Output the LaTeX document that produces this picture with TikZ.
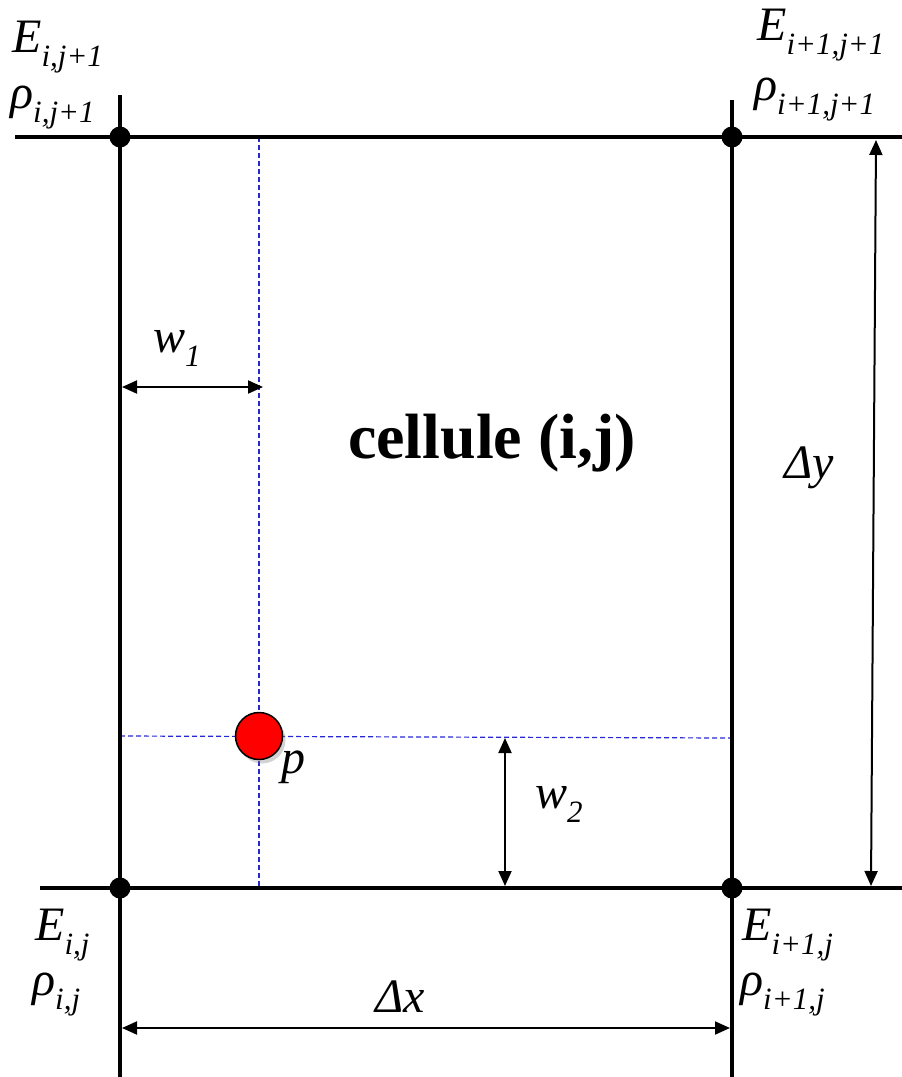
\documentclass[tikz,border=0pt]{standalone}
\usepackage{fontspec}
\setmainfont{Liberation Serif}
\usetikzlibrary{arrows.meta,shadows}
\definecolor{gridblue}{RGB}{40,40,210}
\newcommand{\lab}[2]{{\fontsize{48}{50}\selectfont\itshape #1\raisebox{-0.3em}{\fontsize{31}{33}\selectfont #2}}}
\begin{document}
\begin{tikzpicture}[x=1pt,y=-1pt,
  gridline/.style={line width=4.5pt},
  dot/.style={circle,fill=black,inner sep=0pt,minimum size=21pt},
  guide/.style={gridblue,line width=1.2pt,dash pattern=on 5pt off 3pt},
  dim/.style={line width=2pt,{Triangle[length=15pt,width=13pt]}-{Triangle[length=15pt,width=13pt]}},
  txt/.style={inner sep=0pt,anchor=base west}]
\useasboundingbox (0,0) rectangle (902,1077);
% free ends
\coordinate (tl) at (15,137);
\coordinate (tr) at (902,137);
\coordinate (bl) at (40,888);
\coordinate (br) at (902,888);
\coordinate (lt) at (120,95);
\coordinate (lb) at (120,1077);
\coordinate (rt) at (732,100);
\coordinate (rb) at (732,1077);
% guides
\coordinate (gvt) at (259,137);
\coordinate (gvb) at (259,888);
\coordinate (ghl) at (120,736);
\coordinate (ghr) at (732,738);
\draw[guide] (gvt) -- (gvb);
\draw[guide] (ghl) -- (ghr);
% grid lines
\draw[gridline] (tl) -- (tr);
\draw[gridline] (bl) -- (br);
\draw[gridline] (lt) -- (lb);
\draw[gridline] (rt) -- (rb);
% corner dots
\node[dot] (A) at (120,137) {};
\node[dot] (B) at (732,137) {};
\node[dot] (C) at (120,888) {};
\node[dot] (D) at (732,888) {};
% particle
\node[circle,draw=black,line width=1.5pt,fill=red,minimum size=47pt,inner sep=0pt,
  drop shadow={shadow xshift=3pt,shadow yshift=-4pt,opacity=0.35}] (P) at (259,736) {};
% dimension arrows
\coordinate (w1a) at (122,387);
\coordinate (w1b) at (263,387);
\draw[dim] (w1a) -- (w1b);
\coordinate (w2a) at (505,738);
\coordinate (w2b) at (505,886);
\draw[dim] (w2a) -- (w2b);
\coordinate (dya) at (876,140);
\coordinate (dyb) at (871,886);
\draw[dim] (dya) -- (dyb);
\coordinate (dxa) at (122,1028);
\coordinate (dxb) at (730,1028);
\draw[dim] (dxa) -- (dxb);
% labels
\node[txt] (l1) at (12,52) {\lab{E}{i,j+1}};
\node[txt] (l2) at (10,108) {\lab{ρ}{i,j+1}};
\node[txt] (l3) at (757,40) {\lab{E}{i+1,j+1}};
\node[txt] (l4) at (754,100) {\lab{ρ}{i+1,j+1}};
\node[txt] (l5) at (35,940) {\lab{E}{i,j}};
\node[txt] (l6) at (32,995) {\lab{ρ}{i,j}};
\node[txt] (l7) at (742,940) {\lab{E}{i+1,j}};
\node[txt] (l8) at (740,995) {\lab{ρ}{i+1,j}};
\node[txt] (lw1) at (153,352) {\lab{w}{1}};
\node[txt] (lw2) at (535,808) {\lab{w}{2}};
\node[txt] (lp) at (281,773) {\fontsize{48}{50}\selectfont\itshape p};
\node[txt] (ldy) at (784,478) {\fontsize{48}{50}\selectfont\itshape Δy};
\node[txt] (ldx) at (375,1012) {\fontsize{48}{50}\selectfont\itshape Δx};
\node[inner sep=0pt,anchor=base] (cell) at (492,458) {\fontsize{64}{66}\selectfont\bfseries cellule (i,j)};
\end{tikzpicture}
\end{document}
